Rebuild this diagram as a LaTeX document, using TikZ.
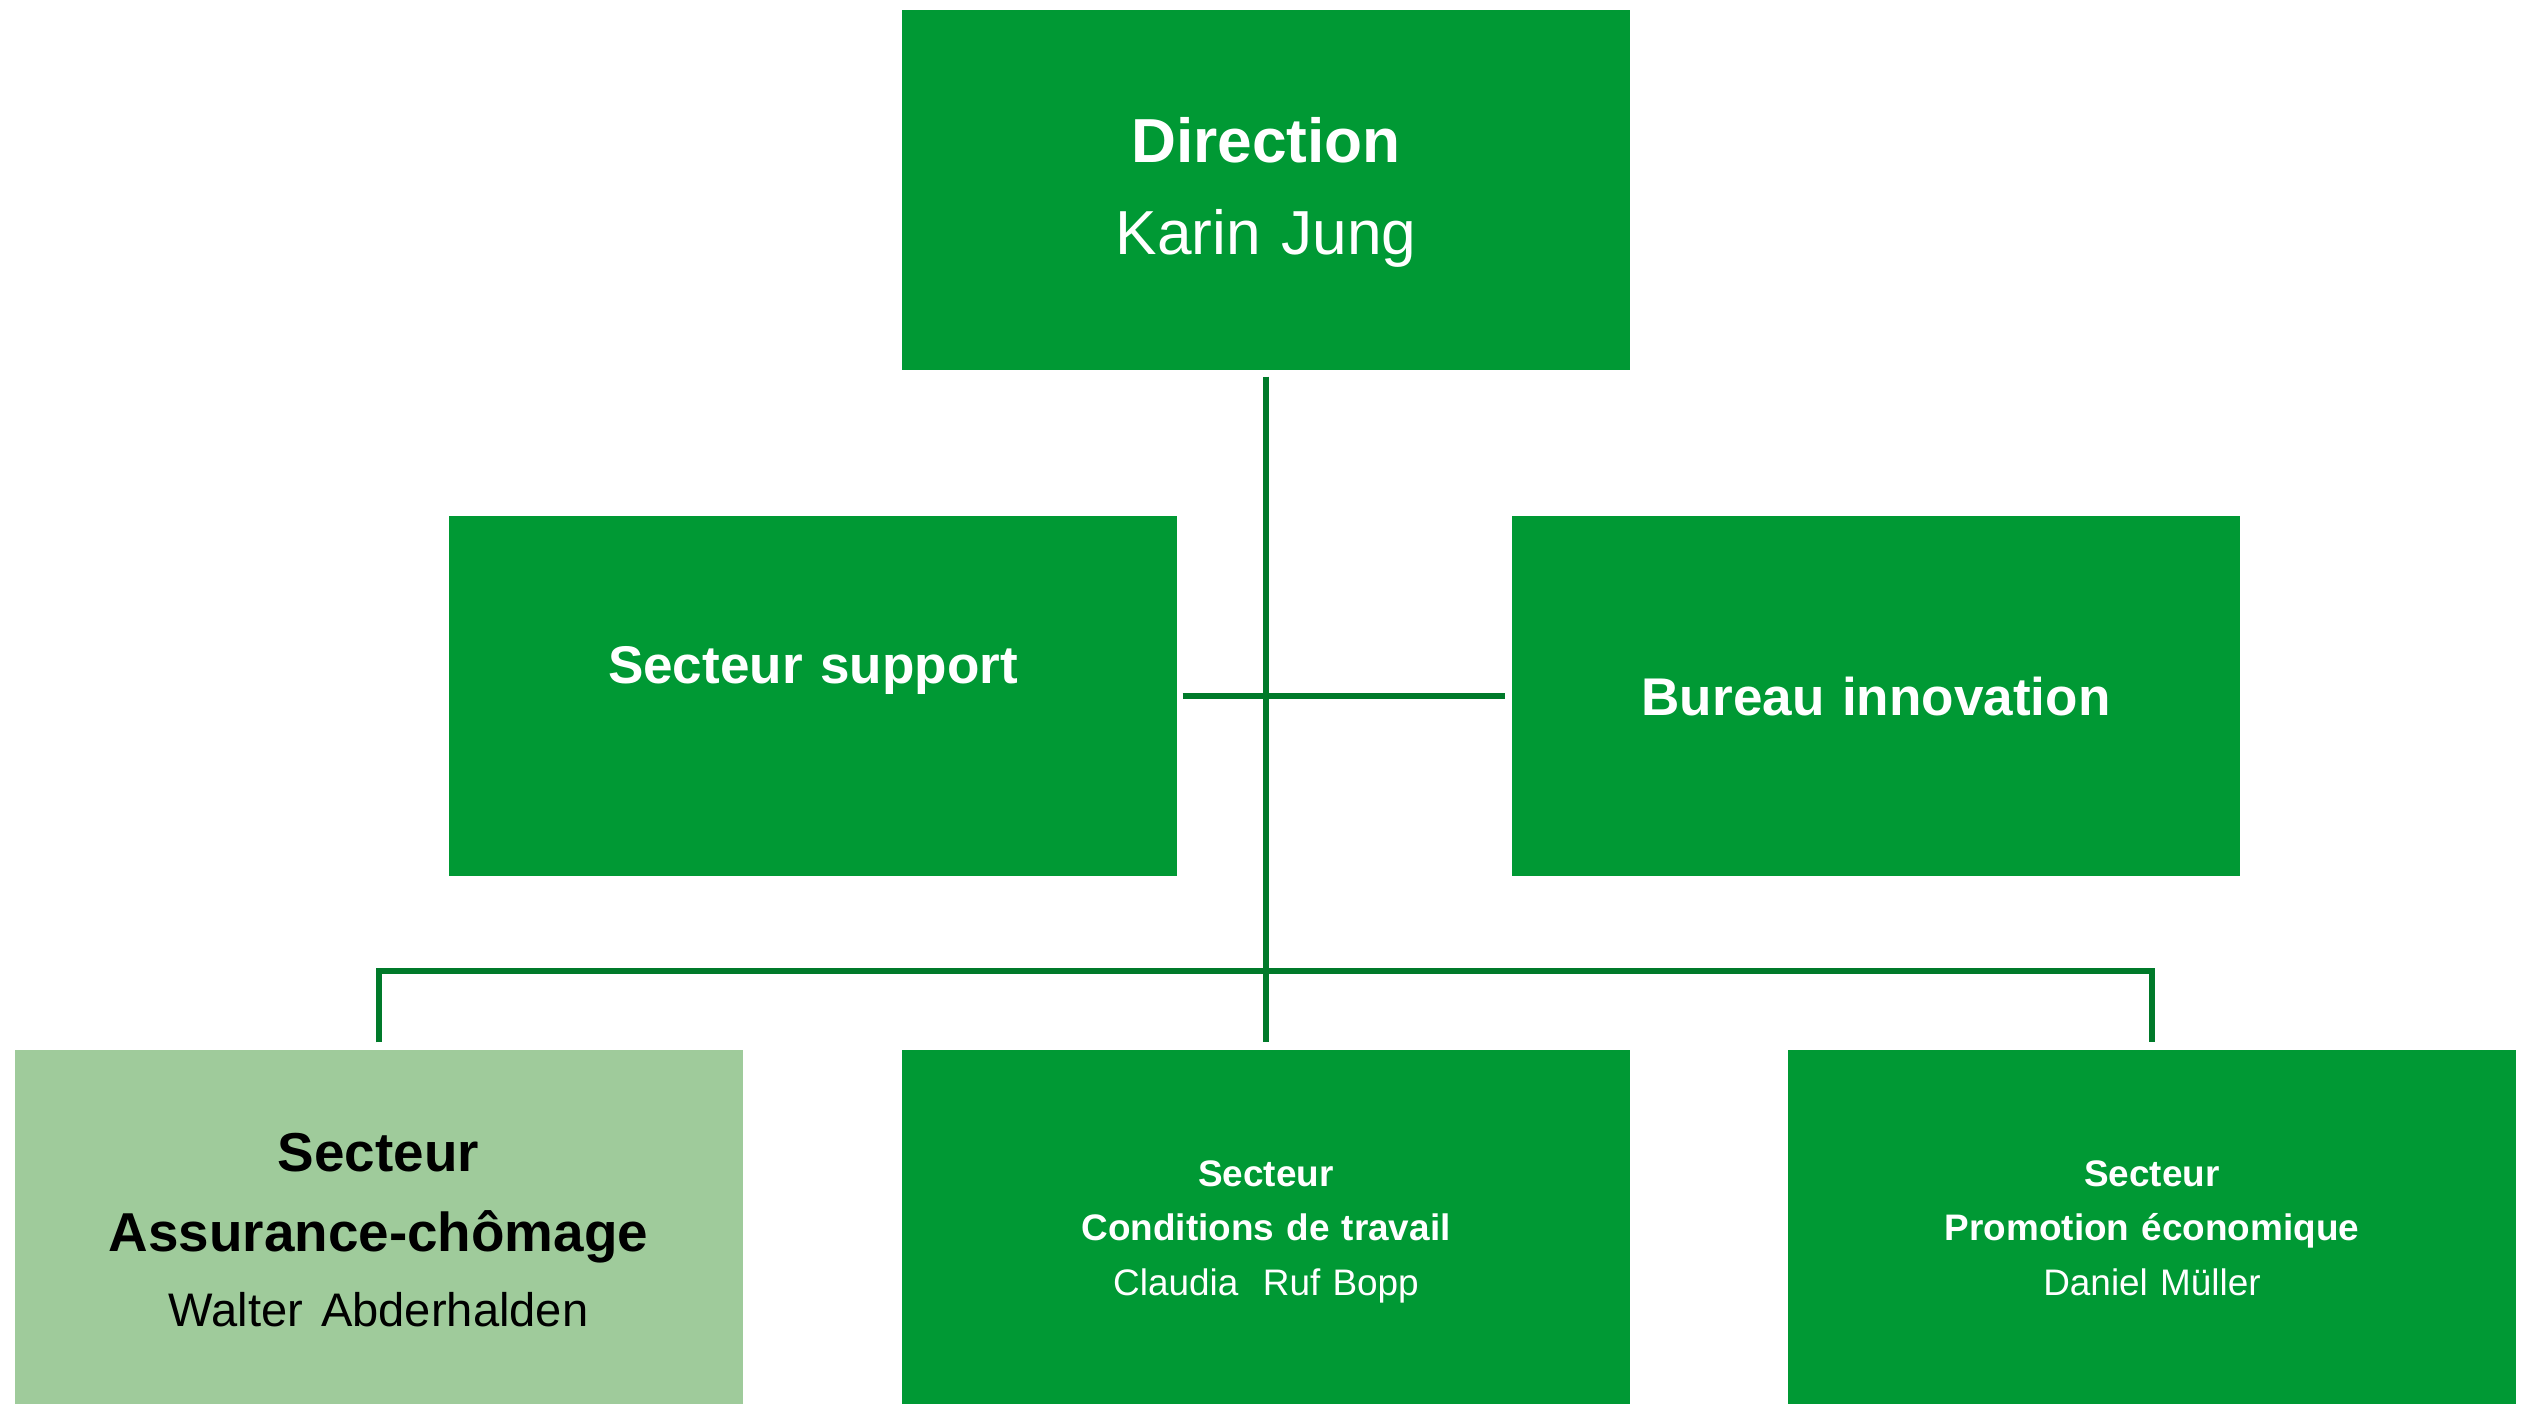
\documentclass[tikz,border=0pt]{standalone}
\usepackage{fontspec}
\setmainfont{Liberation Sans}
\definecolor{hijau}{RGB}{0,153,52}
\definecolor{hijaumuda}{RGB}{159,203,155}
\definecolor{hijaugaris}{RGB}{0,122,42}

\begin{document}
\begin{tikzpicture}[
	kotak/.style={rectangle, fill=hijau, text=white, minimum width=7.28cm, minimum height=3.6cm, inner sep=0pt, text width=7cm, align=center},
	garis/.style={draw=hijaugaris, line width=0.06cm}
	]

\useasboundingbox (0,0) rectangle (25.26,-14.04);

% kotak direksi
\node[kotak, font=\fontsize{17.7}{26.2}\selectfont] (dir) at (12.66,-1.90) {\strut\textbf{Direction}\\Karin Jung\strut};

% kotak tengah
\node[kotak, font=\fontsize{15.1}{18.1}\selectfont\bfseries] (sup) at (8.13,-6.965) {Secteur support\\\mbox{}};
\node[kotak, font=\fontsize{15.1}{18.1}\selectfont\bfseries] (inno) at (18.76,-6.965) {Bureau innovation};

% kotak bawah
\node[kotak, fill=hijaumuda, text=black, font=\fontsize{15.6}{21.3}\selectfont] (alv) at (3.785,-12.30) {\textbf{Secteur}\\[1.5pt]\textbf{Assurance-chômage}\\\fontsize{13.4}{21.3}\selectfont Walter Abderhalden};
\node[kotak, font=\fontsize{10.5}{15.6}\selectfont] (cond) at (12.66,-12.30) {\strut\textbf{Secteur}\\\textbf{Conditions de travail}\\Claudia\ \ Ruf Bopp\strut};
\node[kotak, font=\fontsize{10.5}{15.6}\selectfont] (promo) at (21.52,-12.30) {\strut\textbf{Secteur}\\\textbf{Promotion économique}\\Daniel Müller\strut};

% garis penghubung
\coordinate (palang) at (0,-9.71);
\draw[garis] ([yshift=-0.06cm]dir.south) -- ([yshift=0.07cm]cond.north);
\draw[garis] ([xshift=0.05cm]sup.east) -- ([xshift=-0.06cm]inno.west);
\draw[garis] ([yshift=0.07cm]alv.north) |- (palang -| promo.north) -- ([yshift=0.07cm]promo.north);

\end{tikzpicture}
\end{document}
